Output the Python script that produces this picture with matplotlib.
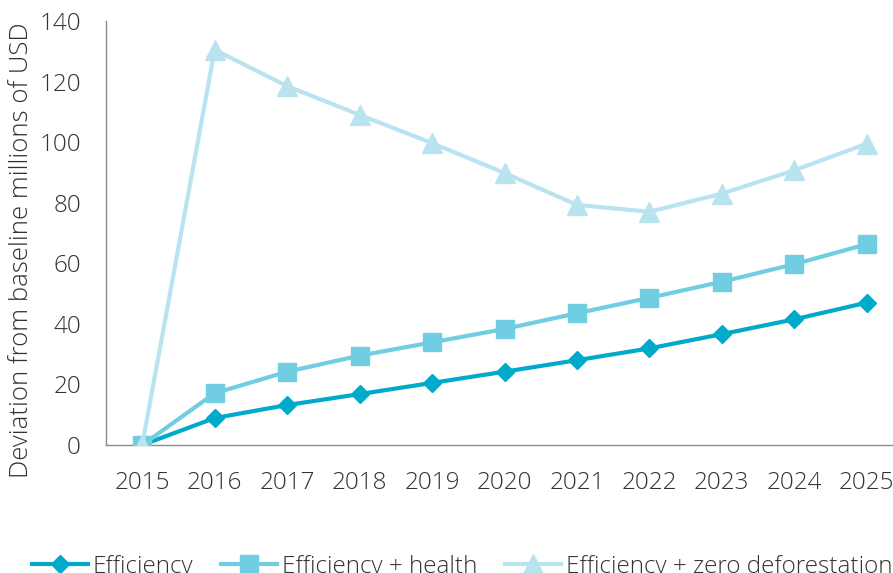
import numpy as np
import matplotlib.pyplot as plt

# values (millions of USD)
years = ['2015', '2016', '2017', '2018', '2019', '2020', '2021', '2022', '2023', '2024', '2025']
efficiency = [0, 8.9, 13.2, 16.8, 20.5, 24.2, 28.0, 31.9, 36.6, 41.5, 47.0]
efficiency_health = [0, 17.1, 24.2, 29.5, 33.9, 38.3, 43.5, 48.6, 53.9, 59.7, 66.3]
efficiency_zero_def = [0, 130.5, 118.5, 109.0, 99.7, 89.8, 79.3, 77.0, 83.0, 90.7, 99.5]

plt.rcParams['font.family'] = ['Open Sans', 'DejaVu Sans']
plt.rcParams['font.weight'] = 'light'
text_color = '#333333'
axis_color = '#8c8c8c'

fig = plt.figure(figsize=(8.93, 5.73), dpi=100)
ax = fig.add_axes([106 / 893, 128 / 573, 797 / 893, 424 / 573])

x = np.arange(len(years))
ax.plot(x, efficiency, color='#00aacb', lw=3, marker='D', markersize=9.5,
        label='Efficiency', zorder=3)
ax.plot(x, efficiency_health, color='#71cde1', lw=3, marker='s', markersize=13,
        label='Efficiency + health', zorder=4)
ax.plot(x, efficiency_zero_def, color='#b9e3ef', lw=3, marker='^', markersize=15,
        label='Efficiency + zero deforestation', zorder=5)

ax.set_xlim(-0.5, len(years) - 0.5)
ax.set_ylim(0, 140)
ax.set_yticks(range(0, 141, 20))
ax.set_xticks(x)
ax.set_xticklabels(years)
ax.tick_params(length=0, labelsize=17.5, colors=text_color)
ax.tick_params(axis='y', pad=18)
ax.tick_params(axis='x', pad=19)

for side in ['top', 'right']:
    ax.spines[side].set_visible(False)
for side in ['left', 'bottom']:
    ax.spines[side].set_color(axis_color)
    ax.spines[side].set_linewidth(1)

fig.text(22 / 893, 323 / 573, 'Deviation from baseline millions of USD',
         rotation=90, ha='center', va='center', fontsize=18.5, color=text_color)

leg = fig.legend(loc='center', bbox_to_anchor=(462 / 893, 6 / 573), ncol=3,
                 frameon=False, fontsize=17.5, handlelength=2.3, handletextpad=0.2,
                 columnspacing=1.15)
for t in leg.get_texts():
    t.set_color(text_color)

fig.savefig('out.png', dpi=100)
